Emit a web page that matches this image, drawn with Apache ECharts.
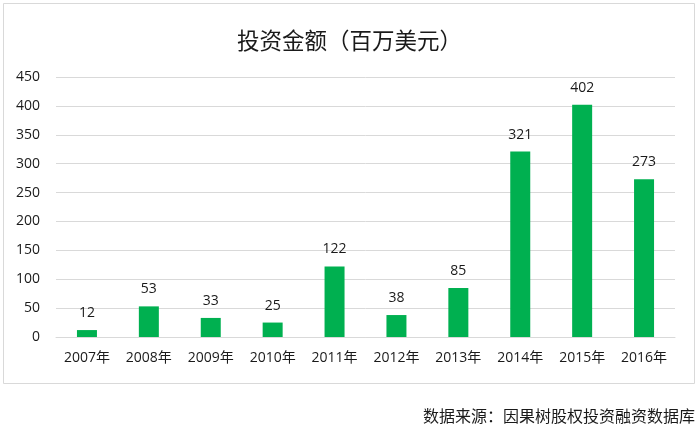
<!DOCTYPE html>
<html><head><meta charset="utf-8">
<script src="https://cdn.jsdelivr.net/npm/echarts@6/dist/echarts.min.js"></script>
<style>html,body{margin:0;padding:0;background:#fff}#c{width:699px;height:427px}</style>
</head><body><div id="c"></div>
<script>
const categories = ['2007年','2008年','2009年','2010年','2011年','2012年','2013年','2014年','2015年','2016年'];
const amounts = [12,53,33,25,122,38,85,321,402,273];
const titleText = '投资金额（百万美元）';
const sourceText = '数据来源：因果树股权投资融资数据库';
const font = '"Open Sans","Noto Sans CJK SC",sans-serif';
const chart = echarts.init(document.getElementById('c'));
chart.setOption({
  animation:false,
  backgroundColor:'#fff',
  title:{text:titleText,left:'center',top:24,textStyle:{fontFamily:'"Noto Sans CJK SC",sans-serif',fontSize:22.5,fontWeight:'normal',color:'#1a1a1a'}},
  grid:{left:56,right:24,top:77,bottom:90},
  xAxis:{type:'category',data:categories,axisTick:{show:false},axisLine:{lineStyle:{color:'#d9d9d9'}},
    axisLabel:{fontFamily:font,fontSize:14,color:'#1a1a1a',margin:14}},
  yAxis:{type:'value',min:0,max:450,interval:50,axisLabel:{fontFamily:font,fontSize:14,color:'#1a1a1a',margin:16},
    splitLine:{lineStyle:{color:'#d9d9d9'}},axisLine:{show:false}},
  series:[{type:'bar',data:amounts,barWidth:20,itemStyle:{color:'#00B050'},
    label:{show:true,position:'top',distance:10,fontFamily:font,fontSize:14,color:'#1a1a1a'}}],
  graphic:[
    {type:'rect',shape:{x:3.5,y:3.5,width:691,height:380},style:{fill:'none',stroke:'#d9d9d9',lineWidth:1},z:-1},
    {type:'text',right:4,top:408,style:{text:sourceText,font:'16px "Noto Sans CJK SC",sans-serif',fill:'#1a1a1a'}}
  ]
});
</script></body></html>
